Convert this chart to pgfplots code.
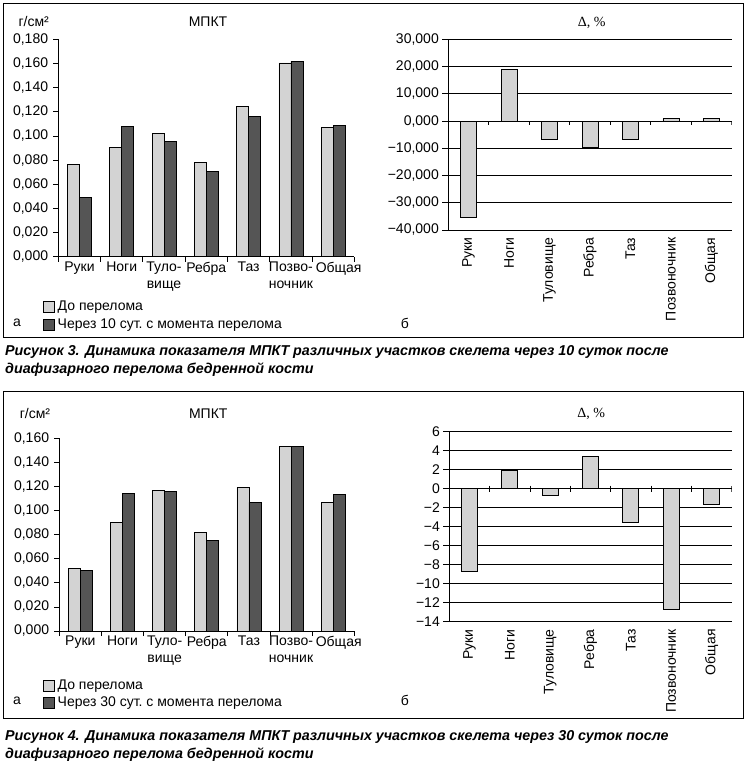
\documentclass[border=0pt]{standalone}
\usepackage{fontspec}
\setmainfont{Liberation Sans}
\newfontfamily\serifDelta{Liberation Serif}
\newfontfamily\capfont{Liberation Sans}
\usepackage{pgfplots}
\pgfplotsset{compat=1.18}
\definecolor{lightbar}{RGB}{211,211,211}
\definecolor{darkbar}{RGB}{85,85,85}
\newcommand{\fsz}{\fontsize{14}{17}\selectfont}
\newcommand{\tsz}{\fontsize{14}{17}\selectfont}

\pgfplotstableread{
x before10 after10 before30 after30 d10 d30
0 0.0765 0.0491 0.0518 0.0504 -35.2 -8.7
1 0.0908 0.1079 0.0902 0.1143 18.8 1.9
2 0.1021 0.0955 0.1168 0.1160 -6.6 -0.7
3 0.0781 0.0707 0.0819 0.0753 -9.8 3.4
4 0.1245 0.1162 0.1193 0.1069 -6.6 -3.5
5 0.1604 0.1618 0.1534 0.1534 0.9 -12.7
6 0.1071 0.1088 0.1069 0.1135 0.9 -1.6
}\datatable

\pgfplotsset{
  leftbars/.style={
    scale only axis, anchor=south west,
    axis x line*=bottom, axis y line*=left,
    axis line style={-, black, line width=0.9pt},
    xmin=-0.5, xmax=6.5, enlargelimits=false,
    ybar=0pt, bar width=12pt,
    xtick={0,1,2,3,4,5,6},
    minor xtick={-0.5,0.5,1.5,2.5,3.5,4.5,5.5,6.5},
    tick align=outside,
    major tick length=5pt, minor tick length=5pt,
    major x tick style={draw=none},
    minor x tick style={black, line width=0.8pt},
    major y tick style={black, line width=0.8pt},
    xticklabels={Руки,Ноги,{Туло-\\вище},Ребра,Таз,{Позво-\\ночник},{\hspace*{11pt}Общая}},
    xticklabel style={font=\fsz, align=center, inner sep=0pt},
    yticklabel style={font=\tsz, inner xsep=5pt, inner ysep=0pt},
    legend style={draw=none, fill=none, anchor=north west, inner sep=0pt, outer sep=0pt,
      row sep=4.5pt, column sep=3pt, font=\fsz,
      nodes={inner sep=0pt, text height=10pt, text depth=3pt}},
    legend cell align=left,
  },
  rightbars/.style={
    scale only axis, anchor=south west,
    axis x line*=bottom, axis y line*=left,
    axis line style={-, black, line width=0.9pt},
    xmin=-0.5, xmax=6.5, enlargelimits=false,
    ybar=0pt, bar width=16pt,
    xtick={0,1,2,3,4,5,6},
    tick align=outside, major tick length=6pt,
    major x tick style={draw=none},
    major y tick style={black, line width=0.8pt},
    ymajorgrids, major grid style={black, line width=0.8pt},
    xticklabels={Руки,Ноги,Туловище,Ребра,Таз,Позвоночник,Общая},
    xticklabel style={font=\fsz, rotate=90, anchor=east, inner sep=0pt},
    xticklabel shift=1.5pt,
    yticklabel style={font=\tsz, inner xsep=3.3pt, inner ysep=0pt},
  },
  lightstyle/.style={fill=lightbar, draw=black, line width=0.7pt,
    legend image code/.code={\draw[fill=lightbar, draw=black, line width=0.7pt] (0pt,-5.5pt) rectangle (11pt,5.5pt);}},
  darkstyle/.style={fill=darkbar, draw=black, line width=0.7pt,
    legend image code/.code={\draw[fill=darkbar, draw=black, line width=0.7pt] (0pt,-5.5pt) rectangle (11pt,5.5pt);}},
}

\begin{document}
\begin{tikzpicture}[x=1pt,y=1pt]
\useasboundingbox (0,0) rectangle (747,774);
\draw[line width=0.9pt] (3,771) rectangle (743,436.5);
\draw[line width=0.9pt] (3,383) rectangle (743,55.5);

% ---------- Figure 3a ----------
\begin{axis}[leftbars, at={(58.3pt,517.3pt)}, width=296pt, height=217.4pt,
  ymin=0, ymax=0.18,
  ytick={0,0.02,0.04,0.06,0.08,0.1,0.12,0.14,0.16,0.18},
  yticklabels={{0,000},{0,020},{0,040},{0,060},{0,080},{0,100},{0,120},{0,140},{0,160},{0,180}},
  legend style={at={(axis description cs:-0.0517,-0.202)}},
]
\addplot[lightstyle] table[x=x, y=before10] {\datatable};
\addplot[darkstyle] table[x=x, y=after10] {\datatable};
\legend{До перелома, Через 10 сут.\ с момента перелома}
\end{axis}

% ---------- Figure 3b ----------
\begin{axis}[rightbars, at={(448.3pt,544pt)}, width=283.4pt, height=190.7pt,
  ymin=-40, ymax=30,
  ytick={-40,-30,-20,-10,0,10,20,30},
  yticklabels={{−40,000},{−30,000},{−20,000},{−10,000},{0,000},{10,000},{20,000},{30,000}},
]
\addplot[lightstyle] table[x=x, y=d10] {\datatable};
\pgfplotsinvokeforeach{0.5,1.5,2.5,3.5,4.5,5.5,6.5}{\draw[line width=0.8pt] (axis cs:#1,0) -- ++(0pt,-4pt);}
\end{axis}

% ---------- Figure 4a ----------
\begin{axis}[leftbars, at={(59.3pt,143pt)}, width=295pt, height=192.7pt,
  ymin=0, ymax=0.16,
  ytick={0,0.02,0.04,0.06,0.08,0.1,0.12,0.14,0.16},
  yticklabels={{0,000},{0,020},{0,040},{0,060},{0,080},{0,100},{0,120},{0,140},{0,160}},
  legend style={at={(axis description cs:-0.0553,-0.250)}},
]
\addplot[lightstyle] table[x=x, y=before30] {\datatable};
\addplot[darkstyle] table[x=x, y=after30] {\datatable};
\legend{До перелома, Через 30 сут.\ с момента перелома}
\end{axis}

% ---------- Figure 4b ----------
\begin{axis}[rightbars, at={(449.3pt,152.3pt)}, width=282.4pt, height=190pt,
  ymin=-14, ymax=6,
  ytick={-14,-12,-10,-8,-6,-4,-2,0,2,4,6},
  yticklabels={{−14},{−12},{−10},{−8},{−6},{−4},{−2},{0},{2},{4},{6}},
]
\addplot[lightstyle] table[x=x, y=d30] {\datatable};
\pgfplotsinvokeforeach{0.5,1.5,2.5,3.5,4.5,5.5,6.5}{\draw[line width=0.8pt] ([yshift=3pt]axis cs:#1,0) -- ++(0pt,-6pt);}
\end{axis}

% ---------- texts ----------
\node[font=\fsz] at (33.7,752) {г/см²};
\node[font=\fsz] at (208,752) {МПКТ};
\node[font=\serifDelta\fontsize{14}{17}\selectfont] at (591.7,751.5) {Δ, \%};
\node[font=\fsz] at (17,451) {а};
\node[font=\fsz] at (405,451) {б};

\node[font=\fsz] at (35,360.7) {г/см²};
\node[font=\fsz] at (208.3,360.7) {МПКТ};
\node[font=\serifDelta\fontsize{14}{17}\selectfont] at (591.3,359.7) {Δ, \%};
\node[font=\fsz] at (17,73) {а};
\node[font=\fsz] at (405,74) {б};

\node[anchor=base west, inner sep=0pt, align=left, font=\capfont\bfseries\itshape\fontsize{14.3}{18}\selectfont] at (5,400)
  {Рисунок 3. Динамика показателя МПКТ различных участков скелета через 10 суток после\\диафизарного перелома бедренной кости};
\node[anchor=base west, inner sep=0pt, align=left, font=\capfont\bfseries\itshape\fontsize{14.3}{18}\selectfont] at (5,15.5)
  {Рисунок 4. Динамика показателя МПКТ различных участков скелета через 30 суток после\\диафизарного перелома бедренной кости};
\end{tikzpicture}
\end{document}
